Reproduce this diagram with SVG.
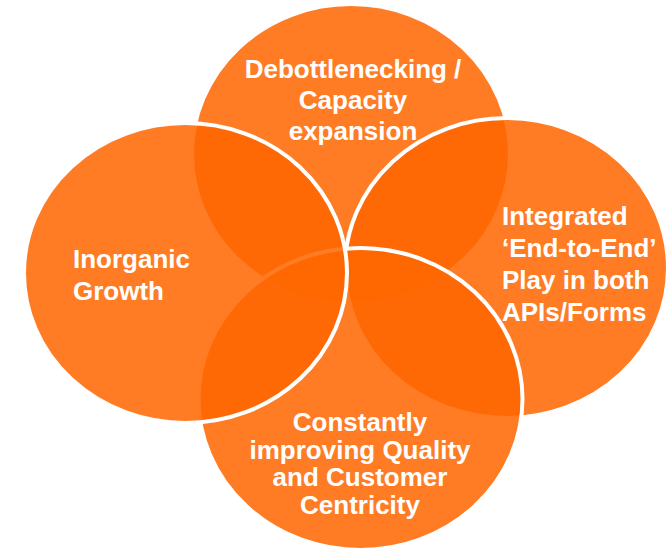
<svg xmlns="http://www.w3.org/2000/svg" width="669" height="548" viewBox="0 0 669 548">
<style>
.c{fill:#FF6600;fill-opacity:0.86;stroke:#FFFFFF;stroke-width:4}
.t{font-family:"Liberation Sans",Arial,sans-serif;font-weight:bold;font-size:26px;fill:#FFFFFF}
.m{text-anchor:middle}
</style>
<rect width="669" height="548" fill="#FFFFFF"/>
<g id="connectors"></g>
<g id="node-debottlenecking">
<ellipse class="c" cx="351" cy="154" rx="159" ry="150"/>
<text class="t m" x="353" y="78">Debottlenecking /</text>
<text class="t m" x="353" y="109">Capacity</text>
<text class="t m" x="353" y="140">expansion</text>
</g>
<g id="node-integrated">
<ellipse class="c" cx="506.5" cy="268" rx="161.5" ry="150"/>
<text class="t" x="502" y="225">Integrated</text>
<text class="t" x="502" y="257">‘End-to-End’</text>
<text class="t" x="502" y="289">Play in both</text>
<text class="t" x="502" y="321">APIs/Forms</text>
</g>
<g id="node-quality">
<ellipse class="c" cx="360.5" cy="399" rx="162" ry="151"/>
<text class="t m" x="360" y="431">Constantly</text>
<text class="t m" x="360" y="459">improving Quality</text>
<text class="t m" x="360" y="486">and Customer</text>
<text class="t m" x="360" y="514">Centricity</text>
</g>
<g id="node-inorganic">
<ellipse class="c" cx="185.5" cy="273" rx="161.5" ry="150"/>
<text class="t" x="73" y="268">Inorganic</text>
<text class="t" x="73" y="300">Growth</text>
</g>
</svg>
